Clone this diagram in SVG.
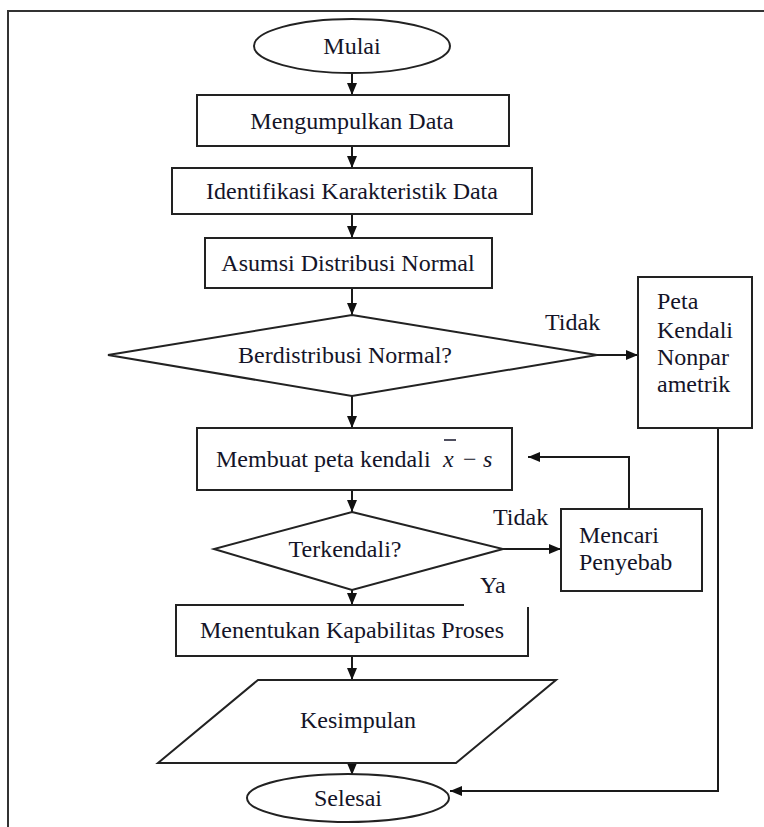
<svg xmlns="http://www.w3.org/2000/svg" width="764" height="827" viewBox="0 0 764 827">
<style>
  .shape { fill: #ffffff; stroke: #222222; stroke-width: 2; }
  .conn { fill: none; stroke: #1a1a1a; stroke-width: 2; }
  text { font-family: "Liberation Serif", "Times New Roman", serif; font-size: 24px; fill: #141428; }
  .c { text-anchor: middle; }
  .it { font-style: italic; }
</style>
<defs>
  <marker id="arr" viewBox="0 0 12 12" refX="12" refY="6" markerWidth="12" markerHeight="12" markerUnits="userSpaceOnUse" orient="auto">
    <path d="M0,1 L12,6 L0,11 z" fill="#111111"/>
  </marker>
</defs>
<rect width="764" height="827" fill="#ffffff"/>
<path d="M8,827 V11 H764" fill="none" stroke="#333333" stroke-width="2"/>

<g id="connectors">
  <line class="conn" x1="352" y1="73" x2="352" y2="95" marker-end="url(#arr)"/>
  <line class="conn" x1="352" y1="146" x2="352" y2="168" marker-end="url(#arr)"/>
  <line class="conn" x1="352" y1="214" x2="352" y2="238" marker-end="url(#arr)"/>
  <line class="conn" x1="352" y1="288" x2="352" y2="315" marker-end="url(#arr)"/>
  <line class="conn" x1="597" y1="355" x2="638" y2="355" marker-end="url(#arr)"/>
  <line class="conn" x1="352" y1="396" x2="352" y2="428" marker-end="url(#arr)"/>
  <line class="conn" x1="352" y1="490" x2="352" y2="512" marker-end="url(#arr)"/>
  <line class="conn" x1="503" y1="549" x2="561" y2="549" marker-end="url(#arr)"/>
  <polyline class="conn" points="629,509 629,457 528,457" marker-end="url(#arr)"/>
  <line class="conn" x1="352" y1="590" x2="352" y2="605" marker-end="url(#arr)"/>
  <line class="conn" x1="352" y1="656" x2="352" y2="680" marker-end="url(#arr)"/>
  <line class="conn" x1="352" y1="763" x2="352" y2="775" marker-end="url(#arr)"/>
  <polyline class="conn" points="718,428 718,791 450,791" marker-end="url(#arr)"/>
</g>

<g id="mulai">
  <ellipse class="shape" cx="352" cy="46" rx="98" ry="27"/>
  <text class="c" x="352" y="54">Mulai</text>
</g>
<g id="mengumpulkan">
  <rect class="shape" x="197" y="95" width="312" height="51"/>
  <text class="c" x="352" y="129">Mengumpulkan Data</text>
</g>
<g id="identifikasi">
  <rect class="shape" x="172" y="168" width="360" height="46"/>
  <text class="c" x="352" y="199">Identifikasi Karakteristik Data</text>
</g>
<g id="asumsi">
  <rect class="shape" x="205" y="238" width="287" height="50"/>
  <text class="c" x="348" y="271">Asumsi Distribusi Normal</text>
</g>
<g id="berdistribusi">
  <polygon class="shape" points="352,315 597,355 352,396 108,355"/>
  <text class="c" x="345" y="363">Berdistribusi Normal?</text>
  <text x="545" y="330">Tidak</text>
</g>
<g id="peta-nonpar">
  <rect class="shape" x="638" y="277" width="114" height="151"/>
  <text x="657" y="309">Peta</text>
  <text x="657" y="338">Kendali</text>
  <text x="657" y="365">Nonpar</text>
  <text x="657" y="392">ametrik</text>
</g>
<g id="membuat">
  <rect class="shape" x="197" y="428" width="315" height="62"/>
  <text x="216" y="467">Membuat peta kendali</text>
  <text class="it" x="443" y="467">x</text>
  <line x1="444" y1="440" x2="456" y2="440" stroke="#141428" stroke-width="1.5"/>
  <text x="463" y="467">−</text>
  <text class="it" x="483" y="467">s</text>
</g>
<g id="terkendali">
  <polygon class="shape" points="352,512 503,549 352,590 214,549"/>
  <text class="c" x="345" y="557">Terkendali?</text>
  <text x="493" y="525">Tidak</text>
</g>
<g id="mencari">
  <rect class="shape" x="561" y="509" width="141" height="82"/>
  <text x="579" y="543">Mencari</text>
  <text x="579" y="570">Penyebab</text>
</g>
<g id="menentukan">
  <path class="shape" d="M464,605 H176 V656 H528 V607"/>
  <text class="c" x="352" y="638">Menentukan Kapabilitas Proses</text>
</g>
<g id="label-ya">
  <text x="480" y="593">Ya</text>
</g>
<g id="kesimpulan">
  <polygon class="shape" points="258,680 556,680 456,763 158,763"/>
  <text class="c" x="358" y="728">Kesimpulan</text>
</g>
<g id="selesai">
  <ellipse class="shape" cx="348" cy="798" rx="101" ry="24"/>
  <text class="c" x="348" y="806">Selesai</text>
</g>
</svg>
